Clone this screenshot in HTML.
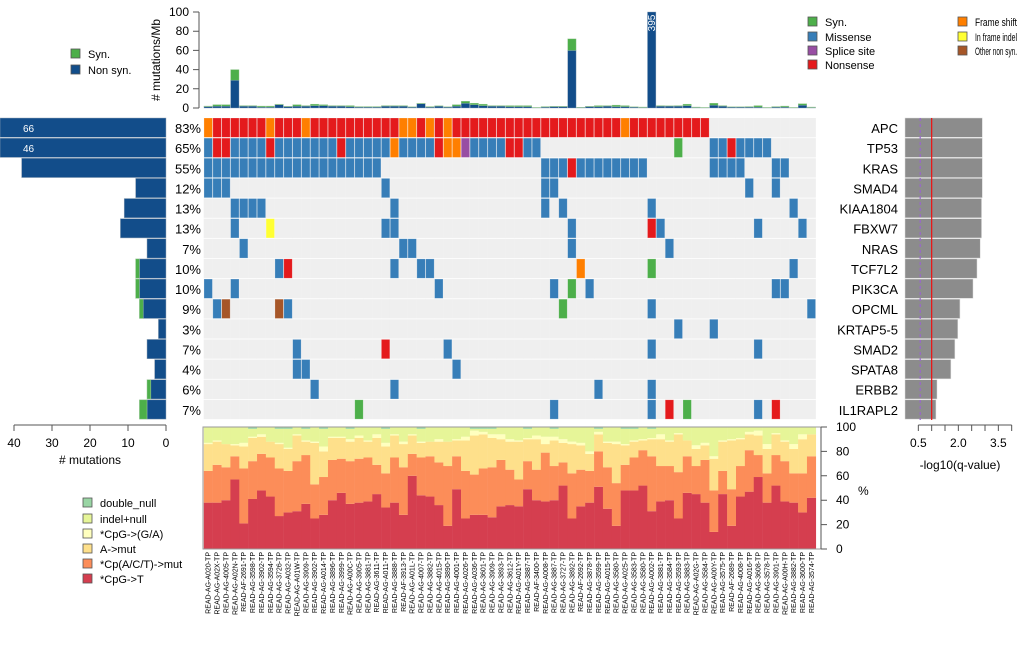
<!DOCTYPE html>
<html><head><meta charset="utf-8"><style>
html,body{margin:0;padding:0;background:#fff;}
svg{display:block;font-family:"Liberation Sans",sans-serif;}
</style></head><body>
<svg id="chart" width="1020" height="660" viewBox="0 0 1020 660" xmlns="http://www.w3.org/2000/svg">
<g id="g-top"></g>
<g id="g-left"></g>
<g id="g-matrix"></g>
<g id="g-right"></g>
<g id="g-bottom"></g>
<g id="g-legend"></g>
</svg>
<script>
const genes=["APC","TP53","KRAS","SMAD4","KIAA1804","FBXW7","NRAS","TCF7L2","PIK3CA","OPCML","KRTAP5-5","SMAD2","SPATA8","ERBB2","IL1RAPL2"];
const pctLabels=["83%","65%","55%","12%","13%","13%","7%","10%","10%","9%","3%","7%","4%","6%","7%"];
const geneNonSyn=[66,46,38,8,11,12,5,7,7,6,2,5,3,4,5];
const geneSyn=[0,0,0,0,0,0,0,1,1,1,0,0,0,1,2];
const qvals=[2.9,2.9,2.9,2.9,2.87,2.87,2.82,2.7,2.55,2.06,1.98,1.87,1.72,1.2,1.16];
const samples=["READ-AG-A020-TP","READ-AG-A02X-TP","READ-AG-4005-TP","READ-AG-A02N-TP","READ-AF-2691-TP","READ-AG-3598-TP","READ-AG-3902-TP","READ-AG-3594-TP","READ-AG-3726-TP","READ-AG-A032-TP","READ-AG-A01W-TP","READ-AG-3909-TP","READ-AG-3902-TP","READ-AG-A014-TP","READ-AG-3896-TP","READ-AG-3999-TP","READ-AG-A00C-TP","READ-AG-3905-TP","READ-AG-3881-TP","READ-AG-3611-TP","READ-AG-A011-TP","READ-AG-3888-TP","READ-AF-3913-TP","READ-AG-A01L-TP","READ-AG-4007-TP","READ-AG-3882-TP","READ-AG-4015-TP","READ-AG-3890-TP","READ-AG-4001-TP","READ-AG-A026-TP","READ-AG-A036-TP","READ-AG-3601-TP","READ-AG-3909-TP","READ-AG-3893-TP","READ-AG-3612-TP","READ-AG-A01Y-TP","READ-AG-3887-TP","READ-AF-3400-TP","READ-AG-A008-TP","READ-AG-3887-TP","READ-AG-3727-TP","READ-AG-3892-TP","READ-AF-2692-TP","READ-AG-3878-TP","READ-AG-3599-TP","READ-AG-A015-TP","READ-AG-3580-TP","READ-AG-A025-TP","READ-AG-3583-TP","READ-AG-3580-TP","READ-AG-A002-TP","READ-AG-3881-TP","READ-AG-3584-TP","READ-AG-3593-TP","READ-AG-3883-TP","READ-AG-A02G-TP","READ-AG-3584-TP","READ-AG-A00Y-TP","READ-AG-3575-TP","READ-AF-2689-TP","READ-AG-4008-TP","READ-AG-A016-TP","READ-AG-3608-TP","READ-AG-3578-TP","READ-AG-3901-TP","READ-AG-A00H-TP","READ-AG-3882-TP","READ-AG-3600-TP","READ-AG-3574-TP"];
const rateNonSyn=[1.5,2,2,29,2,2,1,1,3.5,1.5,2,2,2.5,2.5,2,2,1.5,1,1,1,2,2,2,1,4.5,1,2,1,2,5,3.5,2.5,2,2,1.5,1.5,1.5,0.3,1,1.5,1.5,60,0.5,1.5,1.5,2,1.5,1.5,1,0.5,395,2,2,2,2.5,0.5,0.3,3,2,1,1,1,1,0.3,1,1,0.3,3,0.5];
const rateSyn=[.5,1.5,1.5,11,.5,.5,1,1,.5,.3,1.5,.5,1.5,1,.5,.5,1,.5,.5,.5,.5,.5,.5,.3,.5,.5,.3,.3,1.5,2,1.5,1.5,.5,.5,1,1,1,.3,.5,.3,.3,12,.3,.3,1,.5,1.5,1,.3,.5,0,.5,.3,.5,1.5,.5,.3,2,.5,.3,.3,.5,1.5,.3,.5,1,.3,1.5,.5];
const matrixEvents=[
["0F","1-6N","7F","8-10N","11F","12-21N","22-23F","24N","25F","26N","27F","28-46N","47F","48-56N"],
["0M","1-2N","3-6M","7N","8-14M","15N","16-20M","21F","22-25M","26N","27-28F","29P","30-33M","34-35N","36-37M","53S","57-58M","59N","60-63M"],
["0-19M","38-40M","41N","42-49M","57-60M","64-65M"],
["0-2M","20M","38-39M","61M","64M"],
["3-6M","21M","38M","40M","50M","66M"],
["3M","7I","20-21M","41M","50N","51M","62M","67M"],
["4M","22-23M","41M","52M"],
["8M","9N","21M","24-25M","42F","50S","66M"],
["0M","3M","26M","39M","41S","43M","64-65M"],
["1M","2O","8O","9M","40S","50M","68M"],
["53M","57M"],
["10M","20N","27M","50M","62M"],
["10-11M","28M"],
["12M","21M","44M","50M"],
["17S","39M","50M","52N","54S","62M","64N"]];
const specCpgT=[38,38,40,57,21,41,48,43,27,30,31,37,25,28,40,46,37,38,39,45,34,38,28,60,44,43,36,19,49,25,28,28,26,35,36,35,49,40,39,40,52,25,35,38,51,33,19,48,48,52,31,39,40,25,46,45,38,14,45,19,43,47,59,38,52,39,38,30,42];
const specCpACT=[64,69,67,76,66,72,78,75,66,64,72,77,53,59,73,74,72,74,75,69,62,75,67,78,75,76,71,68,76,64,61,66,67,73,65,57,72,65,79,68,71,62,65,64,80,67,54,69,75,81,76,68,68,63,76,68,73,48,64,49,68,81,77,62,77,72,62,62,76];
const specAmut=[86,88,86,85,84,91,92,88,86,82,93,88,87,80,91,91,88,91,88,91,84,93,86,93,87,88,88,88,89,89,93,94,91,90,88,88,90,90,86,89,87,86,85,78,94,87,86,85,88,89,90,90,88,94,89,82,85,74,88,89,90,94,93,82,94,88,82,90,94];
const specCpgGA=[87,89,86,86,87,92,94,88,87,83,94,89,88,84,92,92,90,93,89,94,87,94,88,94,88,88,90,88,90,92,97,96,94,94,90,89,91,93,92,92,90,88,87,80,96,88,88,86,89,90,91,94,89,95,89,85,87,76,89,90,91,96,97,86,95,89,86,94,94];
const specDoubleNull=[0,0,0,0,0,1.5,0,0,1.5,1.5,0,1.5,0,1.5,0,0,1.5,0,0,0,1.5,0,0,0,1.5,0,0,0,0,0,1.5,1.5,1.5,0,0,0,1.5,0,0,1.5,0,0,0,0,1.5,0,0,1.5,1.5,0,1.5,0,0,0,0,0,0,0,0,0,0,0,0,0,0,0,0,0,0];

const NS="http://www.w3.org/2000/svg";
const COL={M:"#377eb8",N:"#e41a1c",F:"#ff7f00",S:"#4daf4a",P:"#984ea3",I:"#ffff33",O:"#a65628"};
const DARK="#124d8a";
function mk(parent,tag,attrs,txt){const e=document.createElementNS(NS,tag);for(const k in attrs)e.setAttribute(k,attrs[k]);if(txt!==undefined)e.textContent=txt;parent.appendChild(e);return e;}
const colX=k=>204+k*8.87, colW=8.4;
const rowY=i=>118+i*20.13, rowH=19.3;
const topY=v=>108-Math.min(v,100)*0.96;
const leftX=v=>Math.max(0,166-v*3.8);
const qX=v=>905+v*26.67;
const specY=v=>549-v*1.22;

const gT=document.getElementById("g-top"),gL=document.getElementById("g-left"),gM=document.getElementById("g-matrix"),gR=document.getElementById("g-right"),gB=document.getElementById("g-bottom"),gLg=document.getElementById("g-legend");

let e=mk(gT,"path",{d:"M199,12V108 M193,12H199 M193,31.2H199 M193,50.4H199 M193,69.6H199 M193,88.8H199 M193,108H199",stroke:"#555","stroke-width":1,fill:"none"});

[0,20,40,60,80,100].forEach(v=>{const t=mk(gT,"text",{x:189,y:topY(v)+4,"text-anchor":"end","font-size":12},String(v));});
e=mk(gT,"text",{x:0,y:0,"font-size":12,"text-anchor":"middle",transform:"translate(160,60) rotate(-90)"},"# mutations/Mb");

rateNonSyn.forEach((v,k)=>{
  const x=colX(k);
  const r1=mk(gT,"rect",{x:x,y:topY(v),width:colW,height:108-topY(v),fill:DARK,stroke:"#8aa0b8","stroke-width":0.4});
  
  const tot=v+rateSyn[k];
  if(rateSyn[k]>0&&v<100){const r2=mk(gT,"rect",{x:x,y:topY(tot),width:colW,height:topY(v)-topY(tot),fill:"#4daf4a",stroke:"#9cc89a","stroke-width":0.4});
  }
  if(tot>100){const t=mk(gT,"text",{x:0,y:0,"font-size":10,fill:"#fff","text-anchor":"middle",transform:`translate(${x+colW/2+3.5},23) rotate(-90)`},String(tot));
  }
});

genes.forEach((g,i)=>{
  const y=rowY(i);
  for(let k=0;k<samples.length;k++){const b=mk(gM,"rect",{x:colX(k)-0.3,y:y,width:colW+0.6,height:rowH,fill:"#efefef"});
  }
  matrixEvents[i].forEach(ev=>{
    const type=ev.slice(-1),rng=ev.slice(0,-1).split("-").map(Number);
    const a=rng[0],bnd=rng.length>1?rng[1]:rng[0];
    for(let k=a;k<=bnd;k++){const c=mk(gM,"rect",{x:colX(k),y:y,width:colW,height:rowH,fill:COL[type],stroke:"rgba(255,255,255,0.35)","stroke-width":0.6});
    }
  });
  const p=mk(gM,"text",{x:201,y:y+15,"text-anchor":"end","font-size":13},pctLabels[i]);
  
  const gl=mk(gR,"text",{x:898,y:y+15,"text-anchor":"end","font-size":13},g);
  
  const lb=mk(gL,"rect",{x:leftX(geneNonSyn[i]),y:y,width:166-leftX(geneNonSyn[i]),height:rowH,fill:DARK,stroke:"#9aaabb","stroke-width":0.5});
  
  if(geneSyn[i]>0){const tot=geneNonSyn[i]+geneSyn[i];const sb=mk(gL,"rect",{x:leftX(tot),y:y,width:leftX(geneNonSyn[i])-leftX(tot),height:rowH,fill:"#4daf4a",stroke:"#9cc89a","stroke-width":0.5});
  }
  if(geneNonSyn[i]>42){const t=mk(gL,"text",{x:23,y:y+14,"font-size":10,fill:"#fff"},String(geneNonSyn[i]));
  }
  const qb=mk(gR,"rect",{x:905,y:y,width:qX(qvals[i])-905,height:rowH,fill:"#8c8c8c",stroke:"#ddd","stroke-width":0.5});
  
});
e=mk(gR,"line",{x1:qX(0.57),x2:qX(0.57),y1:118,y2:420,stroke:"#9966cc","stroke-width":1.2,"stroke-dasharray":"3,3"});

e=mk(gR,"line",{x1:qX(1),x2:qX(1),y1:118,y2:420,stroke:"#ee1111","stroke-width":1.2});

let d="M"+qX(0.5)+",425H"+qX(4);
for(let v=0.5;v<=4.01;v+=0.5)d+=" M"+qX(v)+",425V431";
e=mk(gR,"path",{d:d,stroke:"#555",fill:"none"});
["0.5","2.0","3.5"].forEach(s=>{const t=mk(gR,"text",{x:qX(+s),y:447,"text-anchor":"middle","font-size":12},s);});
e=mk(gR,"text",{x:960,y:469,"text-anchor":"middle","font-size":12},"-log10(q-value)");
d="M14,425H166";[0,10,20,30,40].forEach(v=>d+=` M${166-v*3.8},425V431`);
e=mk(gL,"path",{d:d,stroke:"#555",fill:"none"});
[0,10,20,30,40].forEach(v=>{const t=mk(gL,"text",{x:166-v*3.8,y:447,"text-anchor":"middle","font-size":12},String(v));});
e=mk(gL,"text",{x:90,y:464,"text-anchor":"middle","font-size":12},"# mutations");

const specCols=["#d53e4f","#fc8d59","#fee08b","#ffffbf","#e6f598","#99d5a4"];
samples.forEach((s,k)=>{
  const x=colX(k)-0.2,w=colW+0.7;
  const bounds=[0,specCpgT[k],specCpACT[k],specAmut[k],specCpgGA[k],100-specDoubleNull[k],100];
  for(let j=0;j<6;j++){if(bounds[j+1]<=bounds[j])continue;
    const r=mk(gB,"rect",{x:x,y:specY(bounds[j+1]),width:w,height:specY(bounds[j])-specY(bounds[j+1]),fill:specCols[j]});
    }
  const t=mk(gB,"text",{x:0,y:0,"font-size":7,"text-anchor":"end",transform:`translate(${colX(k)+colW/2+2.5},552) rotate(-90)`},s);
  
});
e=mk(gB,"rect",{x:203,y:427,width:618,height:122,fill:"none",stroke:"#999","stroke-width":1});

d="M821,427V549";[0,20,40,60,80,100].forEach(v=>d+=` M821,${specY(v)}H827`);
e=mk(gB,"path",{d:d,stroke:"#555",fill:"none"});
[0,20,40,60,80,100].forEach(v=>{const t=mk(gB,"text",{x:836,y:specY(v)+4,"font-size":12},String(v));});
e=mk(gB,"text",{x:858,y:495,"font-size":12},"%");

function leg(x,y,color,label,name,fitW){const r=mk(gLg,"rect",{x:x,y:y-5,width:9,height:9,fill:color,stroke:"#555","stroke-width":0.8});

const t=mk(gLg,"text",{x:x+17,y:y+4,"font-size":11},label);
if(fitW){t.setAttribute('textLength',fitW);t.setAttribute('lengthAdjust','spacingAndGlyphs');}}
leg(71,54,"#4daf4a","Syn.","legend-syn-top");
leg(71,70,DARK,"Non syn.","legend-nonsyn-top");
leg(808,22,"#4daf4a","Syn.","legend-syn");
leg(808,37,"#377eb8","Missense","legend-missense");
leg(808,51,"#984ea3","Splice site","legend-splice");
leg(808,65,"#e41a1c","Nonsense","legend-nonsense");
leg(958,22,"#ff7f00","Frame shift","legend-frameshift",42);
leg(958,37,"#ffff33","In frame indel","legend-inframe",42);
leg(958,51,"#a65628","Other non syn.","legend-other",42);
leg(83,503,"#99d5a4","double_null","legend-double-null");
leg(83,519,"#e6f598","indel+null","legend-indel-null");
leg(83,534,"#ffffbf","*CpG->(G/A)","legend-cpg-ga");
leg(83,549,"#fee08b","A->mut","legend-a-mut");
leg(83,564,"#fc8d59","*Cp(A/C/T)->mut","legend-cpact-mut");
leg(83,579,"#d53e4f","*CpG->T","legend-cpg-t");
</script>
</body></html>
